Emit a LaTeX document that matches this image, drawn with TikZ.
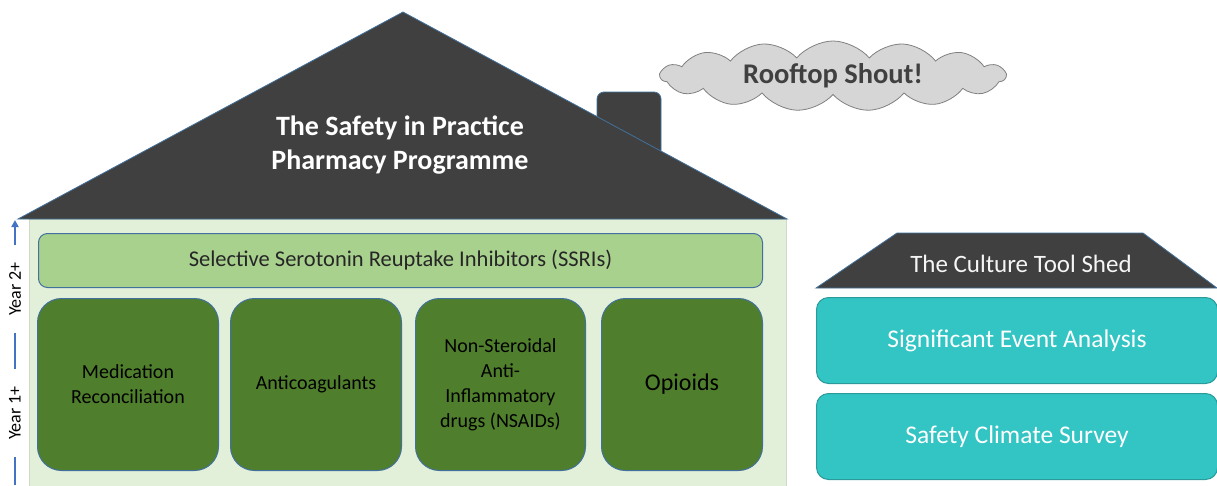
\documentclass[tikz,border=0pt]{standalone}
\usepackage{fontspec}
\setmainfont{Carlito}
\usetikzlibrary{shapes.symbols,arrows.meta}
\definecolor{roofgray}{HTML}{404040}
\definecolor{edgeblue}{HTML}{41719C}
\definecolor{bodygreen}{HTML}{E2EFD9}
\definecolor{ssrigreen}{HTML}{A9D18E}
\definecolor{darkgreen}{HTML}{4F7F2C}
\definecolor{teal}{HTML}{33C4C4}
\definecolor{tealedge}{HTML}{2A9A9A}
\definecolor{cloudgray}{HTML}{D6D6D6}
\definecolor{yearblue}{HTML}{4472C4}
\tikzset{
  roofshape/.style={fill=roofgray, draw=edgeblue, line width=0.8pt, line join=miter},
  drugbox/.style={draw=edgeblue, line width=1pt, fill=darkgreen, rounded corners=24pt,
    minimum height=172pt, align=center, font=\fontsize{20}{25}\selectfont, text=black, inner sep=2pt},
  toolbox/.style={draw=tealedge, line width=1pt, fill=teal, rounded corners=12pt,
    minimum width=401pt, minimum height=86pt, anchor=north west, text=white,
    font=\fontsize{25.5}{30}\selectfont},
  yearlabel/.style={rotate=90, fill=white, text=black, inner xsep=17pt, inner ysep=1pt,
    font=\fontsize{18}{20}\selectfont},
  yearline/.style={draw=yearblue, line width=2pt},
}
\begin{document}
\begin{tikzpicture}[x=1pt,y=-1pt]
\useasboundingbox[fill=white] (0,0) rectangle (1217,485);
% house body
\node[fill=bodygreen, draw=bodygreen!80!gray, line width=0.5pt, minimum width=757pt, minimum height=268pt,
  anchor=north west, inner sep=0pt] (body) at (29,219) {};
% chimney
\draw[roofshape, rounded corners=7pt] (597,170) -- (597,92) -- (661,92) -- (661,170);
% roof
\draw[roofshape] (18,219) -- (403,12) -- (787,219) -- cycle;
\node[text=white, align=center, font=\fontsize{28}{34}\selectfont\bfseries] (title) at (400,145)
  {The Safety in Practice\\Pharmacy Programme};
% cloud
\node[cloud, cloud puffs=15, cloud puff arc=100, cloud ignores aspect, fill=cloudgray, draw=gray,
  line width=0.8pt, minimum width=345pt, minimum height=70pt, text=roofgray,
  font=\fontsize{28.5}{32}\selectfont\bfseries] (shout) at (833,76) {Rooftop Shout!};
% SSRI bar
\node[draw=edgeblue, line width=1pt, fill=ssrigreen, rounded corners=9pt, minimum width=724pt,
  minimum height=54pt, anchor=north west, font=\fontsize{22.5}{26}\selectfont, text=black!85] (ssri)
  at (38,233) {Selective Serotonin Reuptake Inhibitors (SSRIs)};
% drug boxes
\node[drugbox, minimum width=181pt, anchor=north west] (medrec) at (37,298) {Medication\\Reconciliation};
\node[drugbox, minimum width=171pt, anchor=north west] (anticoag) at (230,298) {Anticoagulants};
\node[drugbox, minimum width=170pt, anchor=north west] (nsaid) at (415,298)
  {Non-Steroidal\\Anti-\\Inflammatory\\drugs (NSAIDs)};
\node[drugbox, minimum width=161pt, anchor=north west, font=\fontsize{24}{28}\selectfont] (opioid)
  at (601,298) {Opioids};
% year axis
\coordinate (ybot) at (15,485);
\coordinate (ytop) at (15,220);
\draw[yearline, -{Triangle[length=7pt,width=7pt]}] (ybot) -- (ytop);
\node[yearlabel] (y2) at (15,289) {Year 2+};
\node[yearlabel] (y1) at (15,413) {Year 1+};
% tool shed
\draw[roofshape] (816,288) -- (897,233) -- (1143,233) -- (1217,288) -- cycle;
\node[text=white!92!gray, font=\fontsize{25}{28}\selectfont] (shed) at (1021,264) {The Culture Tool Shed};
\node[toolbox] (sea) at (816,297) {Significant Event Analysis};
\node[toolbox] (scs) at (816,393) {Safety Climate Survey};
\end{tikzpicture}
\end{document}
